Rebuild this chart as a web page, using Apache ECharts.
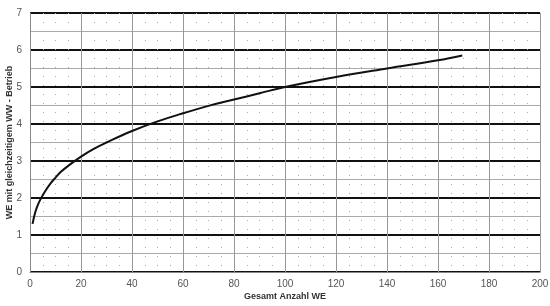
<!DOCTYPE html>
<html>
<head>
<meta charset="utf-8">
<script src="https://cdn.jsdelivr.net/npm/echarts@6/dist/echarts.min.js"></script>
<style>html,body{margin:0;padding:0;background:#fff}#c{width:550px;height:306px}</style>
</head>
<body>
<div id="c"></div>
<script>
var xValues = [1, 2, 3, 4, 6, 8, 10, 12, 15, 20, 25, 30, 40, 50, 60, 70, 80, 90, 100, 120, 140, 160, 169.5];
var yValues = [1.3, 1.6, 1.8, 1.95, 2.19, 2.39, 2.55, 2.7, 2.87, 3.12, 3.33, 3.5, 3.81, 4.07, 4.29, 4.49, 4.66, 4.83, 5.0, 5.27, 5.5, 5.72, 5.85];
var xTicks = [0, 20, 40, 60, 80, 100, 120, 140, 160, 180, 200];
var yTicks = [0, 1, 2, 3, 4, 5, 6, 7];
var xTitle = 'Gesamt Anzahl WE';
var yTitle = 'WE mit gleichzeitigem WW - Betrieb';

var pts = xValues.map(function (x, i) { return [x, yValues[i]]; });
var chart = echarts.init(document.getElementById('c'), null, {renderer: 'canvas'});
var font = 'Liberation Sans, Arial, sans-serif';
chart.setOption({
  animation: false,
  backgroundColor: '#fff',
  grid: {left: 30, right: 10, top: 13, bottom: 34, containLabel: false, outerBoundsMode: 'none'},
  xAxis: {
    type: 'value', min: xTicks[0], max: xTicks[xTicks.length - 1], interval: 20,
    name: xTitle, nameLocation: 'middle', nameGap: 20, nameMoveOverlap: false,
    nameTextStyle: {fontFamily: font, fontSize: 9, fontWeight: 'bold', color: '#333'},
    axisLine: {show: true, lineStyle: {color: '#888', width: 1}},
    axisTick: {show: false},
    axisLabel: {fontFamily: font, fontSize: 10, color: '#555', margin: 7},
    splitLine: {show: true, lineStyle: {color: '#999', width: 1}},
    minorTick: {show: false, splitNumber: 4},
    minorSplitLine: {show: true, lineStyle: {color: '#aaa', width: 1, type: [1, 8]}}
  },
  yAxis: {
    type: 'value', min: yTicks[0], max: yTicks[yTicks.length - 1], interval: 1,
    name: yTitle, nameLocation: 'middle', nameGap: 16, nameMoveOverlap: false,
    nameTextStyle: {fontFamily: font, fontSize: 9, fontWeight: 'bold', color: '#333'},
    axisLine: {show: true, lineStyle: {color: '#888', width: 1}},
    axisTick: {show: false},
    axisLabel: {fontFamily: font, fontSize: 10, color: '#555', margin: 8},
    splitLine: {show: true, lineStyle: {color: '#111', width: 2}},
    minorTick: {show: false, splitNumber: 2},
    minorSplitLine: {show: true, lineStyle: {color: '#aaa', width: 1}}
  },
  series: [{
    type: 'line', data: pts, smooth: 0.4, showSymbol: false,
    lineStyle: {color: '#111', width: 2}
  }]
});
</script>
</body>
</html>
